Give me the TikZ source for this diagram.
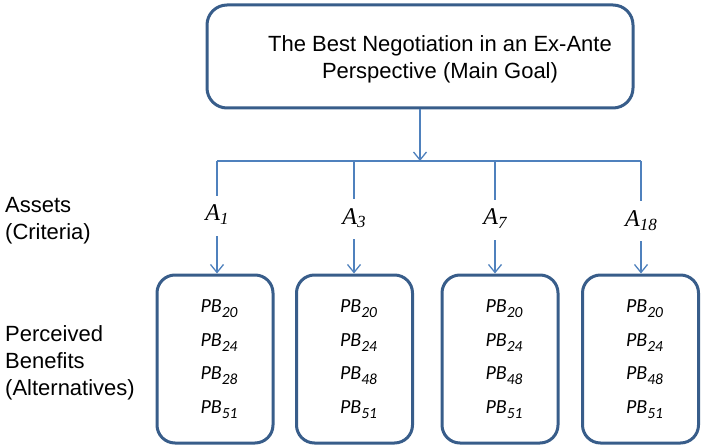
\documentclass[tikz,border=0pt]{standalone}
\usepackage{fontspec}
\setmainfont{Liberation Sans}
\newfontfamily\serifit{Liberation Serif}
\newfontfamily\calibri{Carlito}
\usetikzlibrary{arrows.meta}

\definecolor{boxblue}{RGB}{56,93,138}
\definecolor{linkblue}{RGB}{79,129,189}

% asset label A_n (Times-like italic with lowered index)
\newcommand{\assetlbl}[1]{{\serifit\itshape\fontsize{24}{24}\selectfont A\raisebox{-4pt}{\fontsize{17}{17}\selectfont #1}}}
% perceived benefit PB_n (Calibri-like italic with lowered index)
\newcommand{\pblbl}[1]{{\calibri\itshape\fontsize{20}{20}\selectfont PB\raisebox{-5pt}{\fontsize{15.5}{15.5}\selectfont #1}}}

\begin{document}
\begin{tikzpicture}[x=1pt,y=-1pt,
  roundbox/.style={draw=boxblue, line width=3pt, rounded corners=20pt, fill=white},
  goalbox/.style={roundbox, minimum width=426pt, minimum height=103pt},
  altbox/.style={roundbox, rounded corners=18pt, minimum width=116pt, minimum height=168pt},
  titletext/.style={font=\fontsize{22}{27}\selectfont, align=center, text=black},
  sidelabel/.style={font=\fontsize{22}{27}\selectfont, align=left, inner sep=0pt},
  assetnode/.style={inner xsep=2pt, inner ysep=9pt, text height=16pt, text depth=6pt, anchor=base},
  pbtext/.style={font=\fontsize{20}{33.7}\selectfont, align=left, inner sep=0pt},
  link/.style={draw=linkblue, line width=1.3pt},
  busline/.style={draw=linkblue, line width=2pt},
  tip/.style={-{Straight Barb[length=8pt,width=13pt,line width=1.3pt]}}
]
\useasboundingbox (0,0) rectangle (703,446);

% main goal
\node[goalbox, label={[titletext, xshift=20pt, yshift=-3pt]center:{The Best Negotiation in an Ex-Ante\\Perspective (Main Goal)}}] (goal) at (420,56.5) {};

% distribution line
\coordinate (busL) at (217,161);
\coordinate (busR) at (641,161);
\draw[busline] (busL) -- (busR);
\draw[link, tip] (goal.south) -- (goal.south |- busL);

% row captions (base anchor sits on the last line)
\node[sidelabel, anchor=base west] (assets) at (5,239) {Assets\\(Criteria)};
\node[sidelabel, anchor=base west] (benefits) at (5,395) {Perceived\\Benefits\\(Alternatives)};

% assets
\node[assetnode] (a1) at (217,221) {\assetlbl{1}};
\node[assetnode] (a3) at (354,224) {\assetlbl{3}};
\node[assetnode] (a7) at (495,225) {\assetlbl{7}};
\node[assetnode] (a18) at (641,226) {\assetlbl{18}};

% alternatives
\node[altbox, label={[pbtext, xshift=4pt]center:{\pblbl{20}\\\pblbl{24}\\\pblbl{28}\\\pblbl{51}}}] (b1) at (215,359) {};
\node[altbox, label={[pbtext, xshift=4pt]center:{\pblbl{20}\\\pblbl{24}\\\pblbl{48}\\\pblbl{51}}}] (b3) at (354.5,359) {};
\node[altbox, label={[pbtext, xshift=4pt]center:{\pblbl{20}\\\pblbl{24}\\\pblbl{48}\\\pblbl{51}}}] (b7) at (500,359) {};
\node[altbox, label={[pbtext, xshift=4pt]center:{\pblbl{20}\\\pblbl{24}\\\pblbl{48}\\\pblbl{51}}}] (b18) at (640.5,359) {};

% connectors
\foreach \a/\b in {a1/b1, a3/b3, a7/b7, a18/b18}{
  \draw[link] (\a.north |- busL) -- (\a.north);
  \draw[link, tip] (\a.south) -- (\a.south |- \b.north);
}
\end{tikzpicture}
\end{document}
